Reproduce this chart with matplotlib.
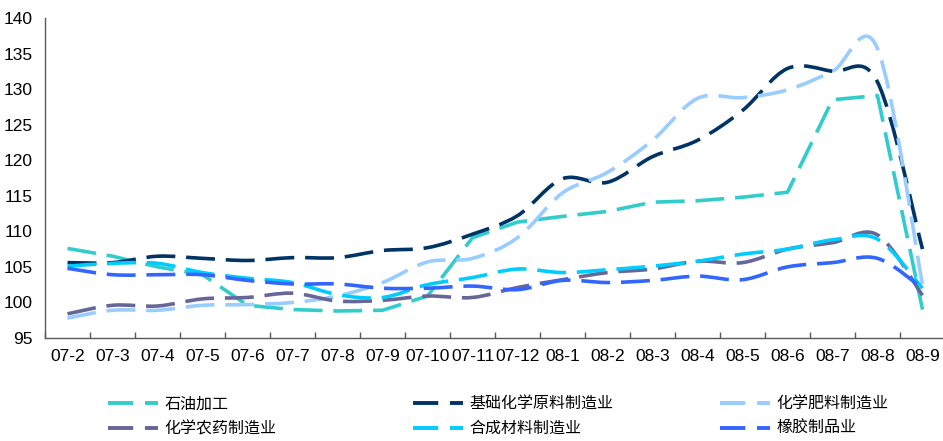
import numpy as np
import matplotlib
matplotlib.use("Agg")
import matplotlib.pyplot as plt
from matplotlib.path import Path
from matplotlib.patches import PathPatch
from matplotlib.lines import Line2D

categories = ['07-2', '07-3', '07-4', '07-5', '07-6', '07-7', '07-8', '07-9', '07-10', '07-11',
              '07-12', '08-1', '08-2', '08-3', '08-4', '08-5', '08-6', '08-7', '08-8', '08-9']

shiyou = [107.6, 106.5, 105.0, 103.9, 99.6, 99.0, 98.8, 98.9, 100.9, 109.1,
          111.3, 112.1, 112.8, 114.1, 114.3, 114.8, 115.5, 128.5, 129.1, 99.0]
jichu = [105.6, 105.6, 106.5, 106.2, 105.9, 106.3, 106.3, 107.3, 107.7, 109.6,
         112.2, 117.4, 116.9, 120.5, 122.8, 127.0, 132.9, 132.5, 131.0, 107.5]
feiliao = [97.8, 98.9, 98.9, 99.6, 99.7, 100.0, 100.9, 102.8, 105.7, 106.2,
           109.1, 115.4, 118.3, 122.8, 128.7, 128.8, 129.9, 132.5, 135.7, 102.5]
nongyao = [98.4, 99.6, 99.5, 100.5, 100.7, 101.3, 100.2, 100.3, 100.9, 100.7,
           102.1, 103.2, 104.2, 104.7, 105.8, 105.6, 107.5, 108.4, 109.5, 101.0]
hecheng = [105.1, 105.5, 105.5, 104.2, 103.4, 102.8, 101.1, 100.7, 102.5, 103.5,
           104.7, 104.2, 104.6, 105.1, 105.8, 106.8, 107.5, 108.8, 108.9, 102.0]
xiangjiao = [104.8, 103.9, 103.9, 103.9, 103.1, 102.6, 102.6, 102.0, 102.0, 102.3,
             101.8, 103.1, 102.8, 103.1, 103.7, 103.2, 105.0, 105.6, 106.2, 102.0]

names = ['石油加工', '基础化学原料制造业', '化学肥料制造业', '化学农药制造业', '合成材料制造业', '橡胶制品业']
series = [shiyou, jichu, feiliao, nongyao, hecheng, xiangjiao]
colors = ['#33CCCC', '#003366', '#99CCFF', '#666699', '#00CCFF', '#3366FF']
smooth = [False, True, True, True, True, True]

W, H = 943, 441
fig = plt.figure(figsize=(W / 100, H / 100), dpi=100)
left = 45 / W
bottom = 103 / H
ax = fig.add_axes([left, bottom, 900 / W, 320 / H])

x = np.arange(len(categories), dtype=float)

def bezier_path(xs, ys, do_smooth):
    pts = np.column_stack([xs, ys])
    n = len(pts)
    verts = [pts[0]]
    codes = [Path.MOVETO]
    for i in range(n - 1):
        p1, p2 = pts[i], pts[i + 1]
        if do_smooth:
            p0 = pts[i - 1] if i > 0 else pts[i]
            p3 = pts[i + 2] if i + 2 < n else pts[i + 1]
            c1 = p1 + (p2 - p0) / 6.0
            c2 = p2 - (p3 - p1) / 6.0
            verts += [c1, c2, p2]
            codes += [Path.CURVE4] * 3
        else:
            verts.append(p2)
            codes.append(Path.LINETO)
    return Path(verts, codes)

dash = (0, (8, 3))
for ys, c, sm in zip(series, colors, smooth):
    p = bezier_path(x, np.array(ys, dtype=float), sm)
    patch = PathPatch(p, fill=False, edgecolor=c, lw=2.6, linestyle=dash,
                      capstyle='butt', joinstyle='round')
    ax.add_patch(patch)

ax.set_xlim(-0.5, len(categories) - 0.5)
ax.set_ylim(95, 140)

tick_font = ['Liberation Sans', 'DejaVu Sans']
ax.set_yticks(np.arange(95, 141, 5))
ax.set_yticklabels([str(v) for v in range(95, 141, 5)], family=tick_font, fontsize=12.5)
ax.set_xticks(x)
ax.set_xticklabels(categories, family=tick_font, fontsize=12.5)
ax.set_xticks(np.arange(-0.5, len(categories), 1), minor=True)
ax.tick_params(axis='x', which='major', length=0, pad=8)
ax.tick_params(axis='x', which='minor', length=4, direction='in', color='#595959', width=1)
ax.tick_params(axis='y', length=0, pad=9)
for s in ['top', 'right']:
    ax.spines[s].set_visible(False)
for s in ['left', 'bottom']:
    ax.spines[s].set_color('#595959')
    ax.spines[s].set_linewidth(1)

# legend in three columns
handles = [Line2D([], [], color=c, lw=2.8, linestyle=(0, (6.5, 3.0)), dash_capstyle='butt')
           for c in colors]
col_x = [108, 413, 720]
yc = (H - 416.5) / H
for ci in range(3):
    idx = [ci, ci + 3]
    fig.legend([handles[i] for i in idx], [names[i] for i in idx],
               loc='center left', bbox_to_anchor=(col_x[ci] / W, yc),
               frameon=False, ncol=1, handlelength=3.1, handletextpad=0.45,
               labelspacing=0.45, borderpad=0, borderaxespad=0,
               prop={'family': ['Noto Sans CJK SC', 'DejaVu Sans'], 'size': 11.5})

fig.savefig('out.png', dpi=100)
